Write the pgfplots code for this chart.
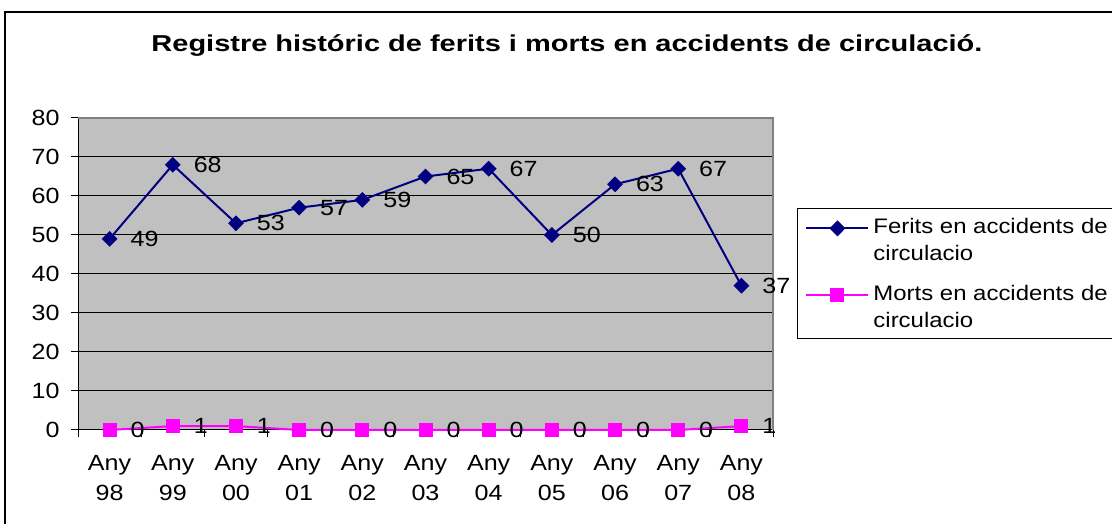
\documentclass[border=0pt]{standalone}
\usepackage{fontspec}
\setmainfont{Liberation Sans}[FakeStretch=1.14]
\newfontfamily\titlefont{Liberation Sans}[FakeStretch=1.26]
\usepackage{pgfplots}
\pgfplotsset{compat=1.18}
\definecolor{navy}{RGB}{0,0,128}
\definecolor{pinkish}{RGB}{255,0,255}
\definecolor{plotgray}{RGB}{192,192,192}
\definecolor{bordergray}{RGB}{128,128,128}

\begin{document}
\begin{tikzpicture}[x=1pt,y=1pt]
\useasboundingbox (0,0) rectangle (1112,524);
\clip (0,0) rectangle (1112,524);
% outer chart frame (cut off at right and bottom)
\draw[line width=1.5pt] (5,-20) -- (5,512) -- (1130,512);
\node[font=\titlefont\bfseries\fontsize{23}{27}\selectfont, anchor=base, inner sep=0pt] at (567,472)
  {Registre históric de ferits i morts en accidents de circulació.};

\begin{axis}[
  at={(78pt,94pt)}, anchor=south west,
  scale only axis, width=695pt, height=312pt,
  xmin=-0.5, xmax=10.5, ymin=0, ymax=80,
  clip=false,
  ytick={0,10,...,80},
  xtick={0,...,10},
  xticklabels={{Any\\98},{Any\\99},{Any\\00},{Any\\01},{Any\\02},{Any\\03},{Any\\04},{Any\\05},{Any\\06},{Any\\07},{Any\\08}},
  minor xtick={-0.5,0.5,...,10.5},
  major x tick style={draw=none},
  tick align=outside,
  major tick length=7pt, minor tick length=7pt,
  tick style={black, line width=1pt},
  ymajorgrids, grid style={black, line width=1pt},
  axis x line*=bottom, axis y line*=left,
  axis line style={black, line width=1pt, -},
  axis background/.style={fill=plotgray},
  /pgf/number format/assume math mode=true,
  ticklabel style={font=\fontsize{22}{30}\selectfont},
  xticklabel style={align=center, yshift=-15pt},
  yticklabel style={xshift=-8pt},
  nodes near coords,
  every node near coord/.append style={anchor=west, xshift=20pt, inner sep=0pt, black,
    font=\fontsize{22}{26}\selectfont},
  legend style={at={(1.0345,0.7115)}, anchor=north west, draw=black, line width=1pt, fill=white,
    font=\fontsize{21}{27}\selectfont, cells={anchor=west, align=left},
    nodes={inner sep=0pt}, column sep=4pt, row sep=23pt, inner xsep=8pt, inner ysep=10pt},
  legend image code/.code={\draw[mark repeat=2, mark phase=2, #1] plot coordinates {(0pt,12pt) (31pt,12pt) (62pt,12pt)};},
]
\addplot[navy, line width=2pt, mark=diamond*, mark size=6.5pt, mark options={solid, xscale=1.33}] coordinates {
  (0,49) (1,68) (2,53) (3,57) (4,59) (5,65) (6,67) (7,50) (8,63) (9,67) (10,37)};
\addlegendentry{Ferits en accidents de\\circulacio}
\addplot[pinkish, line width=2pt, mark=square*, mark size=6pt, mark options={solid}] coordinates {
  (0,0) (1,1) (2,1) (3,0) (4,0) (5,0) (6,0) (7,0) (8,0) (9,0) (10,1)};
\addlegendentry{Morts en accidents de\\circulacio}
\draw[bordergray, line width=1.5pt] (rel axis cs:0,1) -- (rel axis cs:1,1) -- (rel axis cs:1,0);
\end{axis}
\end{tikzpicture}
\end{document}
